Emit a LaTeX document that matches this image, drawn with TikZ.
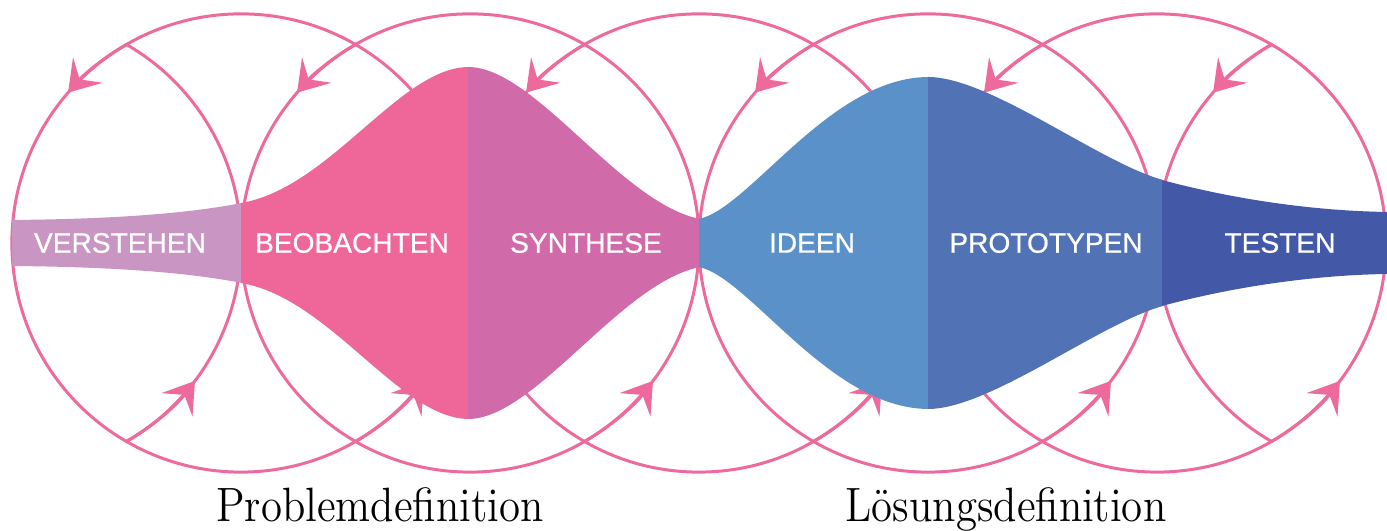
\documentclass[tikz,border=0pt]{standalone}
\usepackage{fontspec}
\usepackage{xcolor}
\newfontfamily\phasefont[FakeBold=0.6]{Liberation Sans}
\usetikzlibrary{arrows.meta}

\definecolor{ringpink}{HTML}{EE6A9C}
\definecolor{verstehencol}{HTML}{C995C3}
\definecolor{beobachtencol}{HTML}{EE6798}
\definecolor{synthesecol}{HTML}{D06AA9}
\definecolor{ideencol}{HTML}{5A91C9}
\definecolor{prototypencol}{HTML}{5172B4}
\definecolor{testencol}{HTML}{4359A7}

\begin{document}
\begin{tikzpicture}[x=0.01cm, y=0.01cm,
    iterring/.style={draw=ringpink, line width=0.85pt},
    iterarrow/.style={iterring, -{Stealth[length=8.5pt, width=11pt, inset=3.5pt]}},
    phaselabel/.style={text=white, font=\phasefont\fontsize{8}{9}\selectfont},
    phasecaption/.style={anchor=base, font=\fontsize{13.7}{16}\selectfont}]
    \useasboundingbox (0,0) rectangle (1387,531);

    % Draw the iteration circles
    \foreach \cx in {241,470,699,928,1157}
        \draw[iterring] (\cx,288) circle[radius=2.29cm];
    \draw[iterring] (12,288) ++(-60:2.29cm) arc[start angle=-60, end angle=60, radius=2.29cm];
    \draw[iterring] (1386,288) ++(120:2.29cm) arc[start angle=120, end angle=240, radius=2.29cm];

    % Arrow tips on the loops
    \foreach \cx in {241,470,699,928,1157,1386}
        \draw[iterarrow] (\cx,288) ++(120:2.29cm) arc[start angle=120, end angle=139, radius=2.29cm];
    \foreach \cx in {12,241,470,699,928,1157}
        \draw[iterarrow] (\cx,288) ++(-60:2.29cm) arc[start angle=-60, end angle=-37, radius=2.29cm];

    % Fill the phases
    \fill[verstehencol] (12,311) .. controls (120,312) and (190,318) .. (242,328)
        -- (242,248) .. controls (190,258) and (120,264) .. (12,265) -- cycle;
    \fill[beobachtencol] (241,328) .. controls (330,343) and (400,464) .. (469,464)
        -- (469,112) .. controls (400,112) and (330,233) .. (241,248) -- cycle;
    \fill[synthesecol] (468,464) .. controls (535,464) and (620,328) .. (700,312)
        -- (700,264) .. controls (620,248) and (535,112) .. (468,112) -- cycle;
    \fill[ideencol] (699,312) .. controls (750,323) and (830,454) .. (929,454)
        -- (929,122) .. controls (830,122) and (750,253) .. (699,264) -- cycle;
    \fill[prototypencol] (928,454) .. controls (990,454) and (1100,368) .. (1163,351)
        -- (1163,225) .. controls (1100,208) and (990,122) .. (928,122) -- cycle;
    \fill[testencol] (1162,351) .. controls (1240,330) and (1320,320) .. (1387,319)
        -- (1387,257) .. controls (1320,256) and (1240,246) .. (1162,225) -- cycle;

    % Phase names
    \node[phaselabel] (verstehen) at (120,288) {VERSTEHEN};
    \node[phaselabel] (beobachten) at (352,288) {BEOBACHTEN};
    \node[phaselabel] (synthese) at (586,288) {SYNTHESE};
    \node[phaselabel] (ideen) at (812,288) {IDEEN};
    \node[phaselabel] (prototypen) at (1046,288) {PROTOTYPEN};
    \node[phaselabel] (testen) at (1280,288) {TESTEN};

    % Captions below
    \node[phasecaption] (problem) at (380,9) {\scalebox{0.89}[1]{Problemdefinition}};
    \node[phasecaption] (loesung) at (1006,9) {\scalebox{0.89}[1]{Lösungsdefinition}};
\end{tikzpicture}
\end{document}
